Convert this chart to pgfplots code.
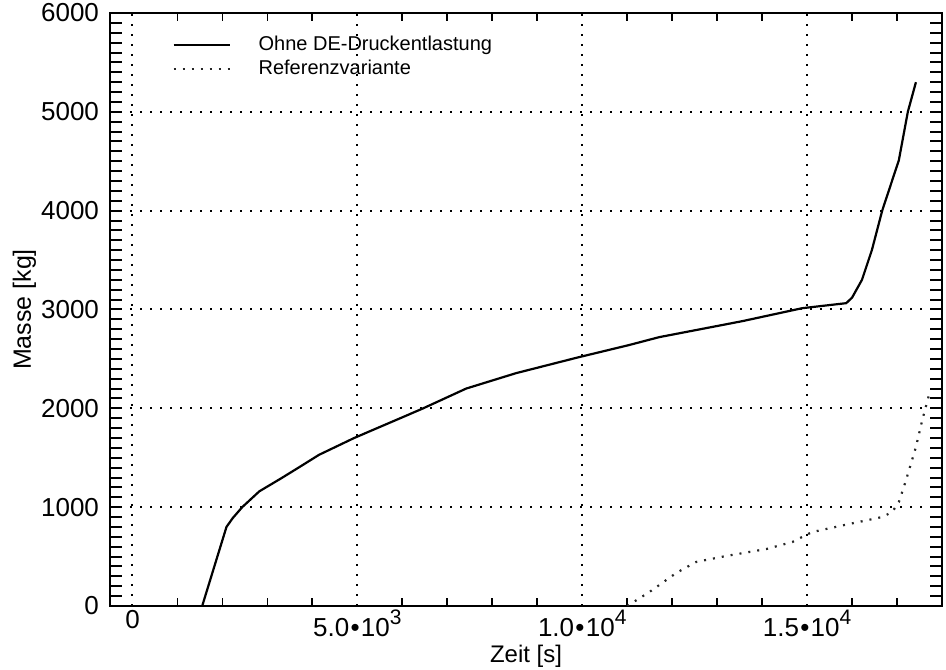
\documentclass[border=0pt]{standalone}
\usepackage{fontspec}
\setmainfont{Liberation Sans}
\usepackage{pgfplots}
\pgfplotsset{compat=1.18}
\newcommand{\sci}[2]{#1\kern0.05em\textbullet\kern0.05em 10\raisebox{0.45em}{\fontsize{10.5}{10.5}\selectfont #2}}
\begin{document}
\begin{tikzpicture}
\begin{axis}[
  name=ax,
  scale only axis, width=416pt, height=296.5pt,
  xmin=-500, xmax=18000, ymin=0, ymax=6000,
  axis line style={line width=1.2pt},
  /pgf/number format/assume math mode=true,
  scaled x ticks=false, scaled y ticks=false,
  xtick={0,5000,10000,15000},
  xticklabels={0,{\sci{5.0}{3}},{\sci{1.0}{4}},{\sci{1.5}{4}}},
  extra x ticks={1000,2000,3000,4000,6000,7000,8000,9000,11000,12000,13000,14000,16000,17000},
  extra x tick labels={},
  extra x tick style={major tick length=4pt, grid=none, tick style={line width=0.9pt, black}},
  ytick={0,1000,...,6000},
  yticklabels={0,1000,2000,3000,4000,5000,6000},
  minor ytick={100,200,...,5900},
  major tick length=0pt,
  minor tick length=6pt,
  tick align=inside,
  minor tick style={line width=1pt, black},
  grid=major,
  major grid style={black, line width=1pt, dash pattern=on 1pt off 4pt},
  xticklabel style={font=\fontsize{13}{13}\selectfont, yshift=1.5pt},
  yticklabel style={font=\fontsize{13}{13}\selectfont, xshift=-2pt},
  xlabel={Zeit [s]}, ylabel={Masse [kg]},
  xlabel style={font=\fontsize{12}{12}\selectfont, at={(axis description cs:0.5,0)}, anchor=base, yshift=-28.5pt},
  ylabel style={font=\fontsize{12.5}{12.5}\selectfont, at={(axis description cs:-0.095,0.5)}, anchor=base},
  legend style={at={(0,1)}, anchor=north west, xshift=28pt, yshift=-8pt,
    draw=none, fill=none, font=\fontsize{10}{10.5}\selectfont,
    nodes={inner ysep=1.5pt}},
  legend cell align=left,
  legend image code/.code={\draw[#1] (0pt,0pt) -- (28pt,0pt);},
  /tikz/every odd column/.append style={column sep=12pt},
]
\addplot[black, line width=1.1pt] coordinates {
(1550,0) (2090,800) (2230,890) (2440,1000) (2820,1160) (3300,1290) (3710,1405)
(4150,1530) (4930,1700) (6440,1995) (7420,2200) (8530,2356) (9930,2518)
(11040,2640) (11710,2720) (13560,2882) (14890,3013) (15870,3064) (16000,3120)
(16220,3300) (16440,3600) (16670,4000) (17040,4510) (17240,5000) (17420,5300)
};
\addlegendentry{Ohne DE-Druckentlastung}
\addplot[black!85, line width=1.1pt, dash pattern=on 1pt off 3.5pt] coordinates {
(11000,0) (11490,140) (12090,334) (12530,445) (13200,506) (14090,576)
(14670,647) (14890,698) (15110,748) (15930,829) (16670,900) (16890,950)
(17040,1050) (17200,1274) (17420,1608) (17560,1880) (17720,2150)
};
\addlegendentry{Referenzvariante}
\end{axis}
\pgfresetboundingbox
\useasboundingbox ([xshift=-55pt,yshift=-32pt]ax.south west) rectangle ([xshift=2pt,yshift=6.5pt]ax.north east);
\end{tikzpicture}
\end{document}
